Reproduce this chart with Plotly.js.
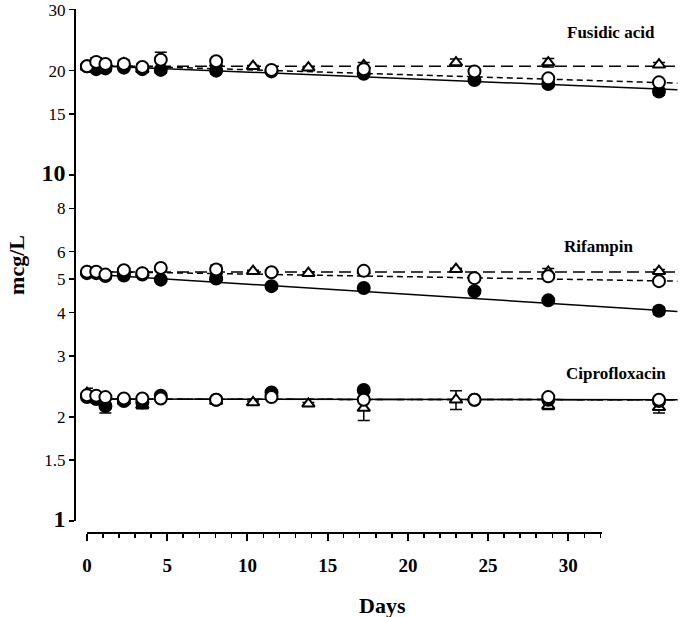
<!DOCTYPE html>
<html><head><meta charset="utf-8">
<script src="https://cdn.plot.ly/plotly-3.0.1.min.js"></script>
<style>body{margin:0;background:#fff}</style>
</head><body><div id="chart" style="width:680px;height:617px"></div>
<script>
// Sampling days
const circleDays = [0, 0.5, 1, 2, 3, 4, 7, 10, 15, 21, 25, 31];
const triDays = [0, 2, 3, 7, 9, 12, 15, 20, 25, 31];
const fitDays = [0, 32];

// Fusidic acid
const fusFilled = [20.6, 20.2, 20.3, 20.4, 20.2, 20.1, 20.0, 19.9, 19.6, 18.8, 18.3, 17.4];
const fusFilledErr = [0.3, 0.3, 0.4, 0.3, 0.3, 0.4, 0.4, 0.2, 0.2, 0.3, 0.3, 0.4];
const fusOpen = [20.6, 21.2, 20.9, 20.9, 20.5, 21.5, 21.3, 20.1, 20.2, 19.9, 19.0, 18.5];
const fusOpenErr = [0.3, 0.6, 0.4, 0.5, 0.4, 1.1, 0.4, 0.2, 0.3, 0.3, 0.3, 0.3];
const fusTri = [20.5, 21.0, 20.2, 21.0, 20.6, 20.4, 20.7, 21.1, 21.1, 20.8];
const fusTriErr = [0.3, 0.4, 0.4, 0.4, 0.1, 0.1, 0.4, 0.5, 0.6, 0.3];
const fusFilledFit = [20.7, 17.6];
const fusOpenFit = [20.8, 18.4];
const fusTriFit = [20.6, 20.6];

// Rifampin
const rifFilled = [5.2, 5.2, 5.1, 5.12, 5.15, 4.98, 5.02, 4.77, 4.71, 4.61, 4.34, 4.05];
const rifFilledErr = [0.05, 0.05, 0.08, 0.1, 0.05, 0.05, 0.05, 0.08, 0.04, 0.06, 0.07, 0.1];
const rifOpen = [5.25, 5.25, 5.15, 5.3, 5.2, 5.38, 5.33, 5.23, 5.28, 5.03, 5.09, 4.93];
const rifOpenErr = [0.05, 0.05, 0.05, 0.08, 0.05, 0.05, 0.15, 0.05, 0.05, 0.05, 0.08, 0.05];
const rifTri = [5.25, 5.25, 5.2, 5.05, 5.27, 5.2, 5.28, 5.34, 5.24, 5.27];
const rifTriErr = [0.05, 0.08, 0.08, 0.1, 0.03, 0.05, 0.05, 0.03, 0.12, 0.06];
const rifFilledFit = [5.17, 4.03];
const rifOpenFit = [5.26, 4.93];
const rifTriFit = [5.24, 5.24];

// Ciprofloxacin
const ciproFilled = [2.28, 2.25, 2.15, 2.22, 2.2, 2.30, 2.24, 2.35, 2.39, 2.24, 2.24, 2.22];
const ciproFilledErr = [0.05, 0.05, 0.1, 0.03, 0.03, 0.03, 0.03, 0.04, 0.04, 0.03, 0.03, 0.03];
const ciproOpen = [2.31, 2.30, 2.28, 2.26, 2.26, 2.26, 2.24, 2.28, 2.24, 2.24, 2.28, 2.24];
const ciproOpenErr = [0.04, 0.03, 0.03, 0.03, 0.03, 0.03, 0.03, 0.03, 0.03, 0.03, 0.03, 0.03];
const ciproTri = [2.34, 2.22, 2.16, 2.22, 2.20, 2.18, 2.12, 2.24, 2.15, 2.13];
const ciproTriErr = [0.08, 0.04, 0.05, 0.04, 0.02, 0.02, 0.17, 0.14, 0.05, 0.08];
const ciproFilledFit = [2.25, 2.24];
const ciproOpenFit = [2.25, 2.24];
const ciproTriFit = [2.25, 2.24];

// Axis ticks
const yTickVals = [1, 1.5, 2, 3, 4, 5, 6, 8, 10, 15, 20, 30];
const yTickText = ['<b><span style="font-size:24px">1</span></b>', '1.5', '2', '3', '4', '5', '6', '8',
  '<b><span style="font-size:24px">10</span></b>', '15', '20', '30'];

const drugLabels = ['Fusidic acid', 'Rifampin', 'Ciprofloxacin'];

const traces = [];
function fit(y, dash) {
  traces.push({x: fitDays, y: y, mode: 'lines', type: 'scatter', hoverinfo: 'skip',
    line: {color: 'black', width: 1.5, dash: dash}, showlegend: false});
}
function pts(x, y, err, symbol, fill) {
  traces.push({x: x, y: y, mode: 'markers', type: 'scatter', showlegend: false, cliponaxis: false,
    error_y: {type: 'data', array: err, visible: true, color: 'black', thickness: 1.5, width: 6},
    marker: {symbol: symbol, size: symbol === 'triangle-up' ? 11 : 12, color: fill,
      line: {color: 'black', width: 2}}});
}
const groups = [
  [fusFilled, fusFilledErr, fusOpen, fusOpenErr, fusTri, fusTriErr, fusFilledFit, fusOpenFit, fusTriFit],
  [rifFilled, rifFilledErr, rifOpen, rifOpenErr, rifTri, rifTriErr, rifFilledFit, rifOpenFit, rifTriFit],
  [ciproFilled, ciproFilledErr, ciproOpen, ciproOpenErr, ciproTri, ciproTriErr, ciproFilledFit, ciproOpenFit, ciproTriFit]
];
groups.forEach(g => {
  fit(g[8], '12px,6px');
  fit(g[7], '6px,4px');
  fit(g[6], 'solid');
});
groups.forEach(g => {
  pts(triDays, g[4], g[5], 'triangle-up', 'white');
  pts(circleDays, g[0], g[1], 'circle', 'black');
  pts(circleDays, g[2], g[3], 'circle', 'white');
});
// empty trace so the separately drawn day axis exists
traces.push({x: [], y: [], xaxis: 'x2', yaxis: 'y', type: 'scatter', mode: 'markers', showlegend: false});

const serif = 'Liberation Serif, Times New Roman, serif';
const layout = {
  width: 680, height: 617,
  margin: {l: 75, r: 0, t: 9, b: 84},
  paper_bgcolor: 'white', plot_bgcolor: 'rgba(0,0,0,0)',
  font: {family: serif, color: 'black', size: 16},
  showlegend: false,
  xaxis: {
    range: [0, 32.14], domain: [0.0198, 1], anchor: 'free', position: 0,
    visible: false, showgrid: false, zeroline: false
  },
  xaxis2: {
    range: [0, 32.1], domain: [0.0198, 0.8711], anchor: 'free', position: 0,
    showgrid: false, zeroline: false, showline: true, linecolor: 'black', linewidth: 2,
    ticks: 'outside', ticklen: 7, tickwidth: 2, tickcolor: 'black', dtick: 5, tick0: 0,
    minor: {dtick: 1, ticks: 'outside', ticklen: 4, tickwidth: 1.5, tickcolor: 'black', showgrid: false},
    ticklabelstandoff: 8,
    tickfont: {family: serif, size: 19, weight: 'bold'}
  },
  yaxis: {
    type: 'log', range: [0, Math.log10(30) + 0.002], domain: [0.0229, 1], anchor: 'free', position: 0,
    showgrid: false, zeroline: false, showline: true, linecolor: 'black', linewidth: 2,
    ticks: 'outside', ticklen: 5, tickwidth: 1.5, tickcolor: 'black',
    tickmode: 'array', tickvals: yTickVals, ticktext: yTickText, ticklabeloverflow: 'allow',
    tickfont: {family: serif, size: 17},
    title: {text: '<b>mcg/L</b>', font: {family: serif, size: 22}, standoff: 10}
  },
  annotations: [
    {text: '<b>' + drugLabels[0] + '</b>', xref: 'paper', yref: 'paper', x: 0.962, y: 0.955, xanchor: 'right', yanchor: 'middle', showarrow: false, font: {family: serif, size: 17}},
    {text: '<b>' + drugLabels[1] + '</b>', xref: 'paper', yref: 'paper', x: 0.928, y: 0.547, xanchor: 'right', yanchor: 'middle', showarrow: false, font: {family: serif, size: 17}},
    {text: '<b>' + drugLabels[2] + '</b>', xref: 'paper', yref: 'paper', x: 0.98, y: 0.304, xanchor: 'right', yanchor: 'middle', showarrow: false, font: {family: serif, size: 17}},
    {text: '<b>Days</b>', xref: 'paper', yref: 'paper', x: 0.509, y: 0, yshift: -72, xanchor: 'center', yanchor: 'middle', showarrow: false, font: {family: serif, size: 22}}
  ]
};
Plotly.newPlot('chart', traces, layout, {displayModeBar: false, staticPlot: true});
</script></body></html>
